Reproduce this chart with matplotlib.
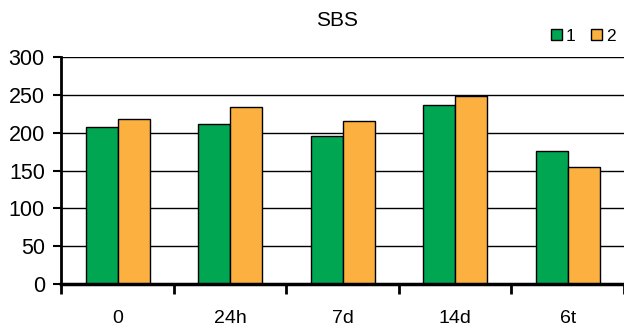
import numpy as np
import matplotlib.pyplot as plt

plt.rcParams['font.family'] = ['Liberation Sans', 'DejaVu Sans']

categories = ['0', '24h', '7d', '14d', '6t']
series_1 = [207.5, 212, 195, 236.5, 175.5]
series_2 = [217.5, 234, 216, 248, 154.5]

green = '#00a651'
orange = '#fbb040'

fig = plt.figure(figsize=(6.24, 3.29), dpi=100)
ax = fig.add_axes([0.0985, 0.1368, 0.9015, 0.6899])

x = np.arange(len(categories))
w = 0.285
ax.bar(x - w / 2, series_1, w, color=green, edgecolor='black', linewidth=1, label='1', zorder=3)
ax.bar(x + w / 2, series_2, w, color=orange, edgecolor='black', linewidth=1, label='2', zorder=3)

ax.set_xlim(-0.5, len(categories) - 0.5)
ax.set_ylim(0, 300)
ax.set_yticks(np.arange(0, 301, 50))
ax.yaxis.grid(True, color='black', linewidth=1, zorder=0)

# category ticks sit between groups, labels centered under each group
ax.set_xticks(np.arange(len(categories) + 1) - 0.5)
ax.set_xticklabels([])
ax.set_xticks(x, minor=True)
ax.set_xticklabels(categories, minor=True)
ax.tick_params(axis='x', which='major', length=7, width=2, direction='out')
ax.tick_params(axis='x', which='minor', length=0, pad=18.5, labelsize=14)
ax.tick_params(axis='y', length=6, width=1.5, labelsize=15.5, pad=6)

for side in ['top', 'right']:
    ax.spines[side].set_visible(False)
ax.spines['left'].set_linewidth(2)
ax.spines['bottom'].set_linewidth(2.5)
ax.spines['bottom'].set_zorder(4)

fig.text(0.540, 0.937, 'SBS', ha='center', va='center', fontsize=15)

fig.legend(loc='center right', bbox_to_anchor=(0.986, 0.89), ncol=2, frameon=False,
           fontsize=12.5, handlelength=0.62, handleheight=0.62, handletextpad=0.2,
           columnspacing=0.95, borderpad=0, borderaxespad=0)

fig.savefig('out.png', dpi=100)
